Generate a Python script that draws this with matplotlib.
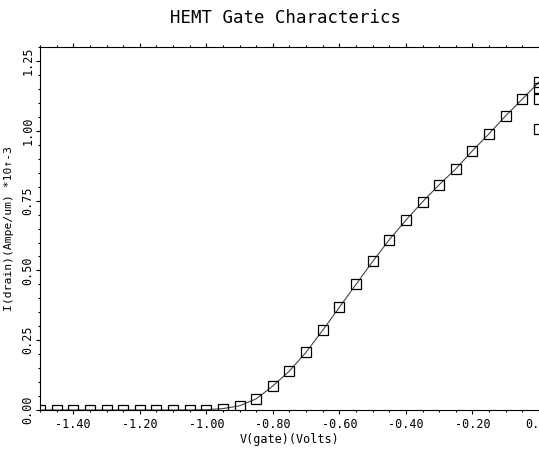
import numpy as np
import matplotlib
matplotlib.use('Agg')
import matplotlib.pyplot as plt
from matplotlib.ticker import MultipleLocator

plt.rcParams['font.family'] = ['DejaVu Sans Mono']

# gate voltage (V) and drain current (A/um *1e-3)
vgate = [-1.50, -1.45, -1.40, -1.35, -1.30, -1.25, -1.20, -1.15, -1.10, -1.05,
         -1.00, -0.95, -0.90, -0.85, -0.80, -0.75, -0.70, -0.65, -0.60, -0.55,
         -0.50, -0.45, -0.40, -0.35, -0.30, -0.25, -0.20, -0.15, -0.10, -0.05, 0.00]
idrain = [0.0, 0.0, 0.0, 0.0, 0.0, 0.0, 0.0, 0.0, 0.0, 0.0,
          0.001, 0.005, 0.015, 0.04, 0.086, 0.14, 0.207, 0.286, 0.368, 0.45,
          0.532, 0.61, 0.68, 0.746, 0.807, 0.864, 0.929, 0.99, 1.054, 1.114, 1.175]

# extra markers sitting on the right edge
edge_v = [0.0, 0.0, 0.0]
edge_i = [1.154, 1.114, 1.007]

xticks = [-1.40, -1.20, -1.00, -0.80, -0.60, -0.40, -0.20, 0.00]
xticklabels = ['-1.40', '-1.20', '-1.00', '-0.80', '-0.60', '-0.40', '-0.20', '0.00']
yticks = [0.00, 0.25, 0.50, 0.75, 1.00, 1.25]
yticklabels = ['0.00', '0.25', '0.50', '0.75', '1.00', '1.25']

fig = plt.figure(figsize=(5.39, 4.49), dpi=100)
ax = fig.add_axes([0.0742, 0.0869, 0.9258, 0.8081])

ax.plot(vgate, idrain, color='#444444', lw=0.8, marker='s', ms=6.5,
        mfc='none', mec='black', mew=0.9)
ax.plot(edge_v, edge_i, ls='none', marker='s', ms=6.5, mfc='none', mec='black', mew=0.9)

ax.set_xlim(-1.5, 0.0)
ax.set_ylim(0.0, 1.3)

ax.set_xticks(xticks)
ax.set_xticklabels(xticklabels, fontsize=8.5)
ax.set_yticks(yticks)
ax.set_yticklabels(yticklabels, fontsize=8.5, rotation=90, va='center')
ax.xaxis.set_minor_locator(MultipleLocator(0.05))
ax.yaxis.set_minor_locator(MultipleLocator(0.05))

ax.tick_params(which='both', top=True, right=True, direction='out', width=0.8)
ax.tick_params(which='major', length=3)
ax.tick_params(which='minor', length=1.5)
ax.tick_params(axis='x', which='major', pad=2.5)
ax.tick_params(axis='y', which='major', pad=1)
for s in ax.spines.values():
    s.set_linewidth(0.8)
ax.spines['right'].set_visible(False)

ax.set_xlabel('V(gate)(Volts)', fontsize=8.5, va='center')
ax.xaxis.set_label_coords(0.5, -0.08)
ax.set_ylabel('I(drain)(Ampe/um) *10\u2191-3', fontsize=8.2, va='center')
ax.yaxis.set_label_coords(-0.063, 0.5)
fig.text(0.53, 0.96, 'HEMT Gate Characterics', ha='center', va='center', fontsize=12.5)

plt.savefig('out.png', dpi=100)
